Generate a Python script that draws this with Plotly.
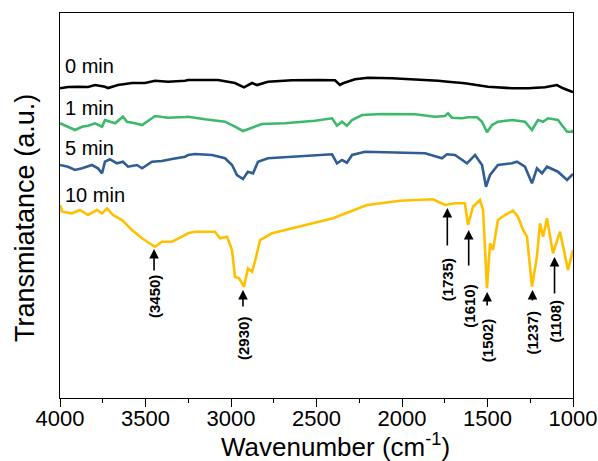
import plotly.graph_objects as go

# ---- data (wavenumber in cm^-1, transmittance in a.u., offset spectra) ----
wn_0 = [4000, 3953, 3895, 3836, 3795, 3737, 3719, 3661, 3579, 3503, 3444, 3368, 3269, 3251,
        3152, 3076, 2977, 2924, 2877, 2848, 2784, 2643, 2491, 2392, 2363, 2345, 2275, 2199,
        2058, 1924, 1789, 1731, 1632, 1497, 1357, 1263, 1164, 1094, 1058, 1006, 1000]
t_0 = [309.7, 311, 311.3, 311, 313, 311.3, 310, 313, 315, 315, 317.3, 316.3, 317.3, 318,
       318, 318, 315, 310.7, 315, 313, 316.3, 317.7, 318, 317.7, 313, 314.7, 318.7, 320.3,
       319.7, 318.7, 317.3, 316.3, 314.7, 311.3, 309.7, 309.7, 310.7, 313, 309.7, 306.3, 306]

wn_1 = [4000, 3953, 3912, 3871, 3836, 3795, 3754, 3737, 3708, 3678, 3632, 3608, 3561, 3520,
        3444, 3368, 3269, 3251, 3152, 3035, 2977, 2930, 2877, 2819, 2684, 2509, 2409, 2380,
        2351, 2322, 2292, 2234, 2117, 1924, 1807, 1749, 1731, 1708, 1649, 1614, 1561, 1532,
        1503, 1474, 1439, 1357, 1281, 1240, 1205, 1175, 1146, 1088, 1035, 1006, 1000]
t_1 = [274.7, 271.3, 268, 271.3, 272.3, 274.7, 271.3, 278, 276.3, 274.7, 281.3, 276.3, 274.7, 273,
       282, 280.3, 281, 281.3, 278.7, 276.3, 271.3, 267, 270.3, 274, 274.7, 277.3, 279.7, 272.3,
       276.3, 272.3, 278, 283, 284, 283.7, 281.3, 282, 284.7, 280.3, 279.7, 280.7, 280.7, 276.3,
       265.7, 273, 276.3, 278, 276.3, 268, 278, 276.3, 279.7, 278, 266.3, 266.3, 268]

wn_5 = [4000, 3953, 3912, 3871, 3813, 3778, 3754, 3737, 3708, 3667, 3632, 3602, 3550, 3520,
        3462, 3404, 3345, 3269, 3251, 3211, 3111, 3035, 2994, 2965, 2930, 2901, 2871, 2842,
        2784, 2626, 2491, 2409, 2380, 2351, 2322, 2292, 2216, 2023, 1865, 1766, 1737, 1690,
        1620, 1573, 1532, 1509, 1485, 1439, 1357, 1328, 1281, 1240, 1211, 1181, 1152, 1088,
        1035, 1006, 1000]
t_5 = [233, 231.3, 228, 229.7, 233, 229.7, 224.7, 236.3, 238.7, 234.7, 236.3, 231.3, 233, 229.7,
       236.3, 237, 239, 241.3, 243, 244, 243, 239.7, 233, 223, 219, 226.3, 224.7, 236.3,
       239.7, 241.3, 243, 243.7, 234.7, 238, 235.3, 243, 246.3, 245.7, 244.7, 239.7, 243.7, 243,
       234.7, 243, 233, 211.3, 223, 233, 234.7, 236.3, 231.3, 214.7, 229.7, 224.7, 231.3, 226.3,
       218, 223, 224]

wn_10 = [4000, 3988, 3930, 3883, 3836, 3784, 3754, 3725, 3690, 3637, 3579, 3520, 3462, 3444,
         3404, 3345, 3287, 3251, 3211, 3152, 3094, 3064, 3023, 2994, 2977, 2953, 2924, 2901,
         2877, 2860, 2830, 2760, 2643, 2491, 2404, 2205, 2012, 1819, 1749, 1690, 1632, 1614,
         1585, 1544, 1526, 1503, 1485, 1468, 1439, 1398, 1351, 1322, 1292, 1269, 1240, 1211,
         1193, 1175, 1152, 1117, 1076, 1029, 1000]
t_10 = [193, 186.3, 184.7, 188, 183, 188, 184.7, 189.7, 183, 178, 168, 159.7, 153, 151.3,
        156.3, 156.3, 161.3, 164.7, 166.3, 166.3, 166.3, 159.7, 161.3, 148, 121.3, 119.7, 111.3, 129.7,
        126.3, 136.3, 158, 164.7, 169.7, 176.3, 179.7, 193, 197.3, 198.7, 193, 194.7, 194.7, 173,
        191.3, 198, 188, 109.7, 154.7, 148, 178, 183, 187.3, 181.3, 168, 161.3, 111.3, 141.3,
        174.7, 161.3, 179.7, 144.7, 166.3, 128, 148]

series_names = ["0 min", "1 min", "5 min", "10 min"]
series_colors = ["#000000", "#3cb96a", "#2f5d94", "#ffc000"]
series_wn = [wn_0, wn_1, wn_5, wn_10]
series_t = [t_0, t_1, t_5, t_10]
label_y = [332, 290, 250, 203]

# peak annotations: wavenumber, arrow tip, arrow tail, label centre (a.u.)
peak_wn = [3450, 2930, 1735, 1610, 1502, 1237, 1108]
peak_tip = [149, 108, 190, 168, 106, 108, 141]
peak_tail = [126, 90, 151, 131, 91, 96, 103]
peak_label_y = [101, 60, 118, 92, 57, 65, 77]

FONT = "Arial, Liberation Sans, sans-serif"

fig = go.Figure()
for name, col, xs, ys in zip(series_names, series_colors, series_wn, series_t):
    fig.add_trace(go.Scatter(x=xs, y=ys, mode="lines", name=name,
                             line=dict(color=col, width=2.6), showlegend=False))

annotations = []
for name, ly in zip(series_names, label_y):
    annotations.append(dict(x=3982, y=ly, xref="x", yref="y", text=name, showarrow=False,
                            xanchor="left", yanchor="middle",
                            font=dict(family=FONT, size=20, color="black")))

for w, tip, tail, ly in zip(peak_wn, peak_tip, peak_tail, peak_label_y):
    annotations.append(dict(x=w, y=tip, ax=w, ay=tail, xref="x", yref="y", axref="x", ayref="y",
                            text="", showarrow=True, arrowhead=2, arrowsize=1.2, arrowwidth=1.6,
                            arrowcolor="black"))
    annotations.append(dict(x=w, y=ly, xref="x", yref="y", text="<b>(%d)</b>" % w, showarrow=False,
                            textangle=-90, xanchor="center", yanchor="middle",
                            font=dict(family=FONT, size=15, color="black")))

annotations.append(dict(x=0.538, y=-0.123, xref="paper", yref="paper",
                        text="Wavenumber (cm<sup>-1</sup>)", showarrow=False,
                        xanchor="center", yanchor="middle",
                        font=dict(family=FONT, size=26, color="black")))
annotations.append(dict(x=-0.068, y=0.468, xref="paper", yref="paper",
                        text="Transmiatance (a.u.)", showarrow=False, textangle=-90,
                        xanchor="center", yanchor="middle",
                        font=dict(family=FONT, size=27, color="black")))

fig.update_layout(
    width=598, height=461,
    margin=dict(l=60, r=25, t=13, b=63, autoexpand=False),
    plot_bgcolor="white", paper_bgcolor="white",
    annotations=annotations,
)
fig.update_xaxes(range=[4000, 1000], tickvals=[4000, 3500, 3000, 2500, 2000, 1500, 1000],
                 ticks="outside", ticklen=8, tickwidth=1.3, tickcolor="black",
                 minor=dict(ticks="outside", ticklen=4, tickwidth=1.2, tickcolor="black",
                            tickvals=[3750, 3250, 2750, 2250, 1750, 1250]),
                 showline=True, linecolor="black", linewidth=1.3, mirror=True,
                 showgrid=False, zeroline=False, ticklabeloverflow="allow",
                 ticklabelstandoff=-8, automargin=False,
                 tickfont=dict(family=FONT, size=22, color="black"))
fig.update_yaxes(range=[0, 385], showticklabels=False, ticks="",
                 showline=True, linecolor="black", linewidth=1.3, mirror=True,
                 showgrid=False, zeroline=False, automargin=False)

fig.write_html("out.html")
